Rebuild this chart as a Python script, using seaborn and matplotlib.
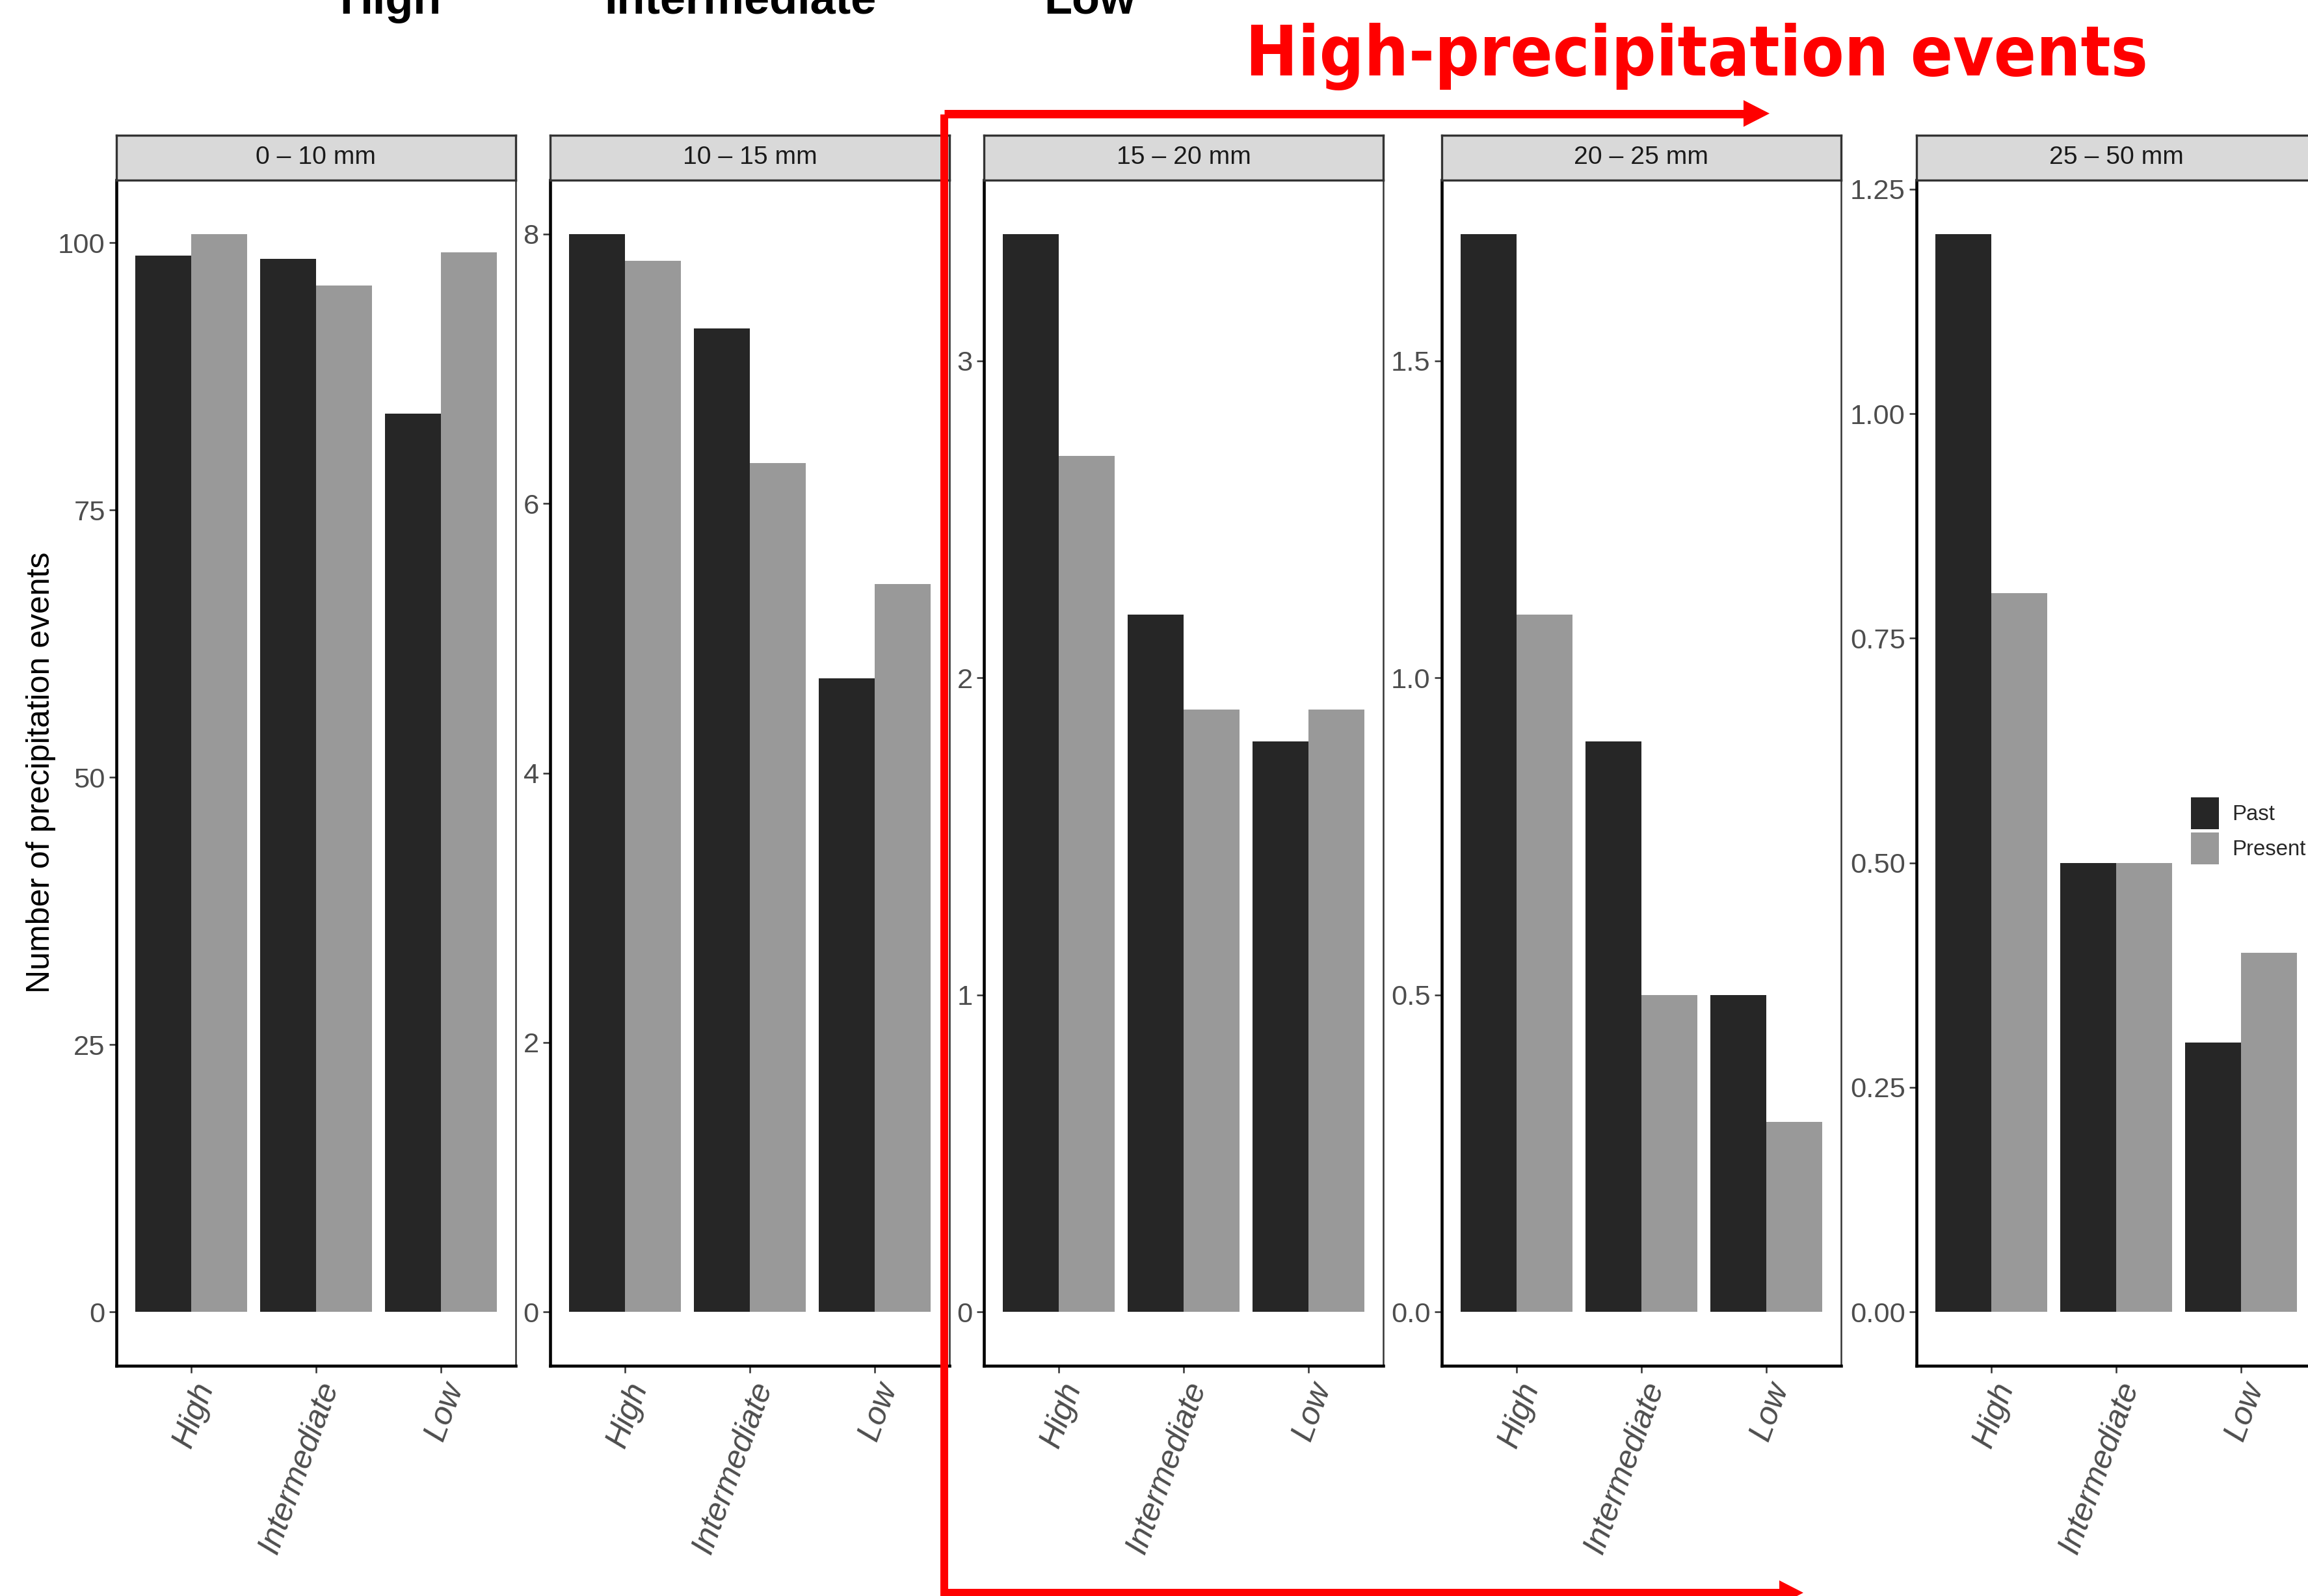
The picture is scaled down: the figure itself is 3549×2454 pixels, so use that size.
import numpy as np
import pandas as pd
import matplotlib
matplotlib.use("Agg")
import matplotlib.pyplot as plt
from matplotlib import font_manager
from matplotlib.patches import Patch, Polygon
from matplotlib.lines import Line2D
import seaborn as sns

# ---------------- data ----------------
categories = ["High", "Intermediate", "Low"]
periods = ["Past", "Present"]
panel_titles = ["0 – 10 mm", "10 – 15 mm", "15 – 20 mm", "20 – 25 mm", "25 – 50 mm"]

past_0_10 = [98.8, 98.5, 84.0]
present_0_10 = [100.8, 96.0, 99.1]
past_10_15 = [8.0, 7.3, 4.7]
present_10_15 = [7.8, 6.3, 5.4]
past_15_20 = [3.4, 2.2, 1.8]
present_15_20 = [2.7, 1.9, 1.9]
past_20_25 = [1.7, 0.9, 0.5]
present_20_25 = [1.1, 0.5, 0.3]
past_25_50 = [1.2, 0.5, 0.3]
present_25_50 = [0.8, 0.5, 0.4]

yticks_0_10 = [0, 25, 50, 75, 100]
yticks_10_15 = [0, 2, 4, 6, 8]
yticks_15_20 = [0, 1, 2, 3]
yticks_20_25 = [0.0, 0.5, 1.0, 1.5]
yticks_25_50 = [0.00, 0.25, 0.50, 0.75, 1.00, 1.25]
ylabels_0_10 = ["0", "25", "50", "75", "100"]
ylabels_10_15 = ["0", "2", "4", "6", "8"]
ylabels_15_20 = ["0", "1", "2", "3"]
ylabels_20_25 = ["0.0", "0.5", "1.0", "1.5"]
ylabels_25_50 = ["0.00", "0.25", "0.50", "0.75", "1.00", "1.25"]

top_labels = ["High", "Intermediate", "Low"]
title_text = "High-precipitation events"
y_title = "Number of precipitation events"

past_all = [past_0_10, past_10_15, past_15_20, past_20_25, past_25_50]
present_all = [present_0_10, present_10_15, present_15_20, present_20_25, present_25_50]
yticks_all = [yticks_0_10, yticks_10_15, yticks_15_20, yticks_20_25, yticks_25_50]
ylabels_all = [ylabels_0_10, ylabels_10_15, ylabels_15_20, ylabels_20_25, ylabels_25_50]

# ---------------- style ----------------
sns.set_style("white")
names = {f.name for f in font_manager.fontManager.ttflist}
if "Liberation Sans Narrow" in names:
    NARROW, NS = "Liberation Sans Narrow", 1.0
else:
    NARROW, NS = "Liberation Sans", 0.87
REG = "Liberation Sans" if "Liberation Sans" in names else "DejaVu Sans"
plt.rcParams["font.family"] = [REG, "DejaVu Sans"]

has_cond = any(f.name == "DejaVu Sans" and f.stretch == "condensed" and f.weight in ("bold", 700)
               for f in font_manager.fontManager.ttflist)

PAST_C = "#262626"
PRES_C = "#999999"
TICK_TXT = "#4D4D4D"
GRID20 = "#333333"

W, H = 3549, 2454
DPI = 300
fig = plt.figure(figsize=(W / DPI, H / DPI), dpi=DPI)
fig.patch.set_facecolor("white")


def fx(px):
    return px / W


def fy(py):
    return 1 - py / H


PX = 72.0 / DPI  # points per pixel

lefts = [179, 846, 1513, 2217, 2947]
pw = 614
ax_top, ax_bot = 277, 2100
strip_top = 208

for i in range(5):
    df = pd.DataFrame({
        "category": categories * 2,
        "period": [periods[0]] * 3 + [periods[1]] * 3,
        "value": past_all[i] + present_all[i],
    })
    ax = fig.add_axes([fx(lefts[i]), fy(ax_bot), pw / W, (ax_bot - ax_top) / H])
    sns.barplot(data=df, x="category", y="value", hue="period", order=categories,
                hue_order=periods, palette=[PAST_C, PRES_C], saturation=1, width=0.9,
                gap=0, linewidth=0, errorbar=None, legend=False, ax=ax)
    m = max(past_all[i] + present_all[i])
    ax.set_ylim(-0.05 * m, 1.05 * m)
    ax.set_xlim(-0.6, 2.6)
    ax.set_xlabel("")
    ax.set_ylabel("")
    ax.set_yticks(yticks_all[i])
    ax.set_yticklabels(ylabels_all[i], fontfamily=NARROW, fontsize=12 * NS, color=TICK_TXT)
    ax.set_xticks(range(3))
    ax.set_xticklabels(categories, rotation=70, ha="right", va="top",
                       rotation_mode="anchor", fontstyle="italic", fontfamily=REG,
                       fontsize=12, color=TICK_TXT)
    ax.tick_params(axis="both", which="both", length=11 * PX, width=0.6, color=GRID20,
                   direction="out", left=True, bottom=True)
    ax.tick_params(axis="y", pad=1.5)
    ax.tick_params(axis="x", pad=2)
    for s in ["left", "bottom"]:
        ax.spines[s].set_color("black")
        ax.spines[s].set_linewidth(1.1)
    for s in ["top", "right"]:
        ax.spines[s].set_color(GRID20)
        ax.spines[s].set_linewidth(0.6)
    ax.grid(False)
    ax.set_facecolor("white")

    sax = fig.add_axes([fx(lefts[i]), fy(ax_top), pw / W, (ax_top - strip_top) / H])
    sax.set_facecolor("#D9D9D9")
    sax.set_xticks([])
    sax.set_yticks([])
    for s in sax.spines.values():
        s.set_color(GRID20)
        s.set_linewidth(0.8)
    sax.text(0.5, 0.5, panel_titles[i], ha="center", va="center", transform=sax.transAxes,
             fontfamily=NARROW, fontsize=10.8 * NS, color="#1A1A1A")

# y-axis title
fig.text(fx(63), fy(1188), y_title, rotation=90, ha="center", va="center",
         fontfamily=REG, fontsize=12, color="black")

# legend
handles = [Patch(facecolor=PAST_C, edgecolor="none"), Patch(facecolor=PRES_C, edgecolor="none")]
lfs = 9.3 * (NS if NS == 1.0 else 0.85)
fs_px = lfs * DPI / 72
hh = (49 / fs_px - 0.245) / 0.65
fig.legend(handles, periods, loc="upper left", bbox_to_anchor=(fx(3369), fy(1226)),
           frameon=False, borderpad=0, borderaxespad=0, handlelength=43 / fs_px,
           handleheight=hh, labelspacing=5 / fs_px, handletextpad=20 / fs_px,
           prop={"family": NARROW, "size": lfs})

# cropped top labels (cut off at the top edge, as in the reference)
for lab, cx in zip(top_labels, [600, 1138, 1676]):
    fig.text(fx(cx), fy(20.5), lab, ha="center", va="baseline", fontfamily=NARROW,
             fontweight="bold", fontsize=19.4 * NS, color="black")

# red title
if has_cond:
    fig.text(fx(2609), fy(116), title_text, ha="center", va="baseline", fontfamily="DejaVu Sans",
             fontstretch="condensed", fontweight="bold", fontsize=25.7, color="#FF0000")
else:
    fig.text(fx(2609), fy(116), title_text, ha="center", va="baseline", fontfamily="DejaVu Sans",
             fontweight="bold", fontsize=25.7 * 0.89, color="#FF0000")

RED = "#FF0000"
lw_r = 13 * PX
# top arrow
fig.add_artist(Line2D([fx(1452), fx(2683)], [fy(174.5), fy(174.5)], lw=lw_r, color=RED,
                      solid_capstyle="butt"))
fig.add_artist(Polygon([[fx(2681), fy(154)], [fx(2721), fy(174.5)], [fx(2681), fy(195)]],
                       closed=True, facecolor=RED, edgecolor="none", transform=fig.transFigure))
# vertical line
fig.add_artist(Line2D([fx(1452), fx(1452)], [fy(176), fy(2460)], lw=12 * PX, color=RED,
                      solid_capstyle="butt"))
# bottom arrow
fig.add_artist(Line2D([fx(1446), fx(2738)], [fy(2449), fy(2449)], lw=lw_r, color=RED,
                      solid_capstyle="butt"))
fig.add_artist(Polygon([[fx(2736), fy(2430)], [fx(2773), fy(2449)], [fx(2736), fy(2468)]],
                       closed=True, facecolor=RED, edgecolor="none", transform=fig.transFigure))

fig.savefig("out.png", dpi=DPI, facecolor="white")
